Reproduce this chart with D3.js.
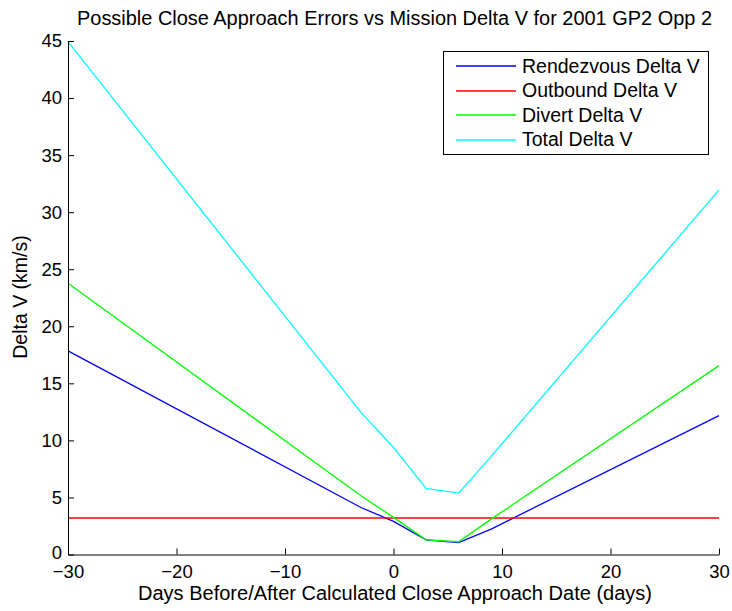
<!DOCTYPE html>
<html>
<head>
<meta charset="utf-8">
<script src="https://cdn.jsdelivr.net/npm/d3@7"></script>
<style>
  html, body { margin: 0; padding: 0; background: #fff; }
  svg { display: block; font-family: "Liberation Sans", Arial, Helvetica, sans-serif; }
</style>
</head>
<body>
<svg id="chart" width="732" height="611"></svg>
<script>
// Days relative to the calculated close approach date
const days = [-30, -3, 0, 3, 6, 9, 30];

// Delta V components (km/s)
const rendezvousDV = [17.85, 4.12, 2.9, 1.29, 1.05, 2.23, 12.17];
const outboundDV   = [3.2, 3.2, 3.2, 3.2, 3.2, 3.2, 3.2];
const divertDV     = [23.77, 5.15, 3.25, 1.29, 1.12, 3.1, 16.55];
const totalDV      = [44.95, 12.46, 9.38, 5.8, 5.38, 8.6, 31.95];

const seriesNames  = ["Rendezvous Delta V", "Outbound Delta V", "Divert Delta V", "Total Delta V"];
const seriesColors = ["#0000ff", "#ff0000", "#00ff00", "#00ffff"];
const seriesValues = [rendezvousDV, outboundDV, divertDV, totalDV];

const xTicks = [-30, -20, -10, 0, 10, 20, 30];
const yTicks = [0, 5, 10, 15, 20, 25, 30, 35, 40, 45];

const svg = d3.select("#chart");
const plotLeft = 68, plotRight = 719, plotTop = 41, plotBottom = 554.5;

const x = d3.scaleLinear().domain([-30, 30]).range([plotLeft, plotRight]);
const y = d3.scaleLinear().domain([0, 45]).range([plotBottom, plotTop]);

// series lines
const line = d3.line().x(d => x(d[0])).y(d => y(d[1]));
svg.append("g").attr("class", "series")
  .selectAll("path")
  .data(seriesValues)
  .join("path")
    .attr("fill", "none")
    .attr("stroke", (d, i) => seriesColors[i])
    .attr("stroke-width", 1.3)
    .attr("d", vals => line(days.map((d, j) => [d, vals[j]])));

// axes with inward ticks
const xAxis = svg.append("g")
  .attr("transform", `translate(0,${plotBottom})`)
  .call(d3.axisBottom(x).tickValues(xTicks).tickSizeInner(-6).tickSizeOuter(0)
    .tickPadding(10).tickFormat(d => d < 0 ? "\u2212" + Math.abs(d) : d));
const yAxis = svg.append("g")
  .attr("transform", `translate(${plotLeft},0)`)
  .call(d3.axisLeft(y).tickValues(yTicks).tickSizeInner(-6).tickSizeOuter(0)
    .tickPadding(6));

[xAxis, yAxis].forEach(g => {
  g.select(".domain").attr("stroke", "#000").attr("stroke-width", 1);
  g.selectAll(".tick line").attr("stroke", "#000");
  g.selectAll(".tick text").attr("fill", "#000").attr("font-size", 18.5)
    .attr("font-family", "Liberation Sans, Arial, sans-serif");
});
xAxis.selectAll(".tick text").attr("dy", "0.71em");
// the zero label sits just above the x tick labels
yAxis.selectAll(".tick text").filter(d => d === 0).attr("dy", "0.2em");

// title and axis labels
svg.append("text")
  .attr("x", 394.5).attr("y", 25)
  .attr("text-anchor", "middle").attr("font-size", 19.5)
  .attr("textLength", 635).attr("lengthAdjust", "spacingAndGlyphs")
  .text("Possible Close Approach Errors vs Mission Delta V for 2001 GP2 Opp 2");

svg.append("text")
  .attr("x", 395).attr("y", 600)
  .attr("text-anchor", "middle").attr("font-size", 19.5)
  .attr("textLength", 514).attr("lengthAdjust", "spacingAndGlyphs")
  .text("Days Before/After Calculated Close Approach Date (days)");

svg.append("text")
  .attr("transform", `translate(27,297) rotate(-90)`)
  .attr("text-anchor", "middle").attr("font-size", 19.5)
  .text("Delta V (km/s)");

// legend
const legend = svg.append("g");
legend.append("rect")
  .attr("x", 443.5).attr("y", 51.5).attr("width", 265).attr("height", 103)
  .attr("fill", "#fff").attr("stroke", "#000").attr("stroke-width", 1);
seriesNames.forEach((name, i) => {
  const ly = 66 + i * 24.5;
  legend.append("line")
    .attr("x1", 456).attr("x2", 516).attr("y1", Math.round(ly)).attr("y2", Math.round(ly))
    .attr("stroke", seriesColors[i]).attr("stroke-width", 1.4);
  legend.append("text")
    .attr("x", 522).attr("y", ly).attr("dy", "0.35em")
    .attr("font-size", 19.5).text(name);
});
</script>
</body>
</html>
